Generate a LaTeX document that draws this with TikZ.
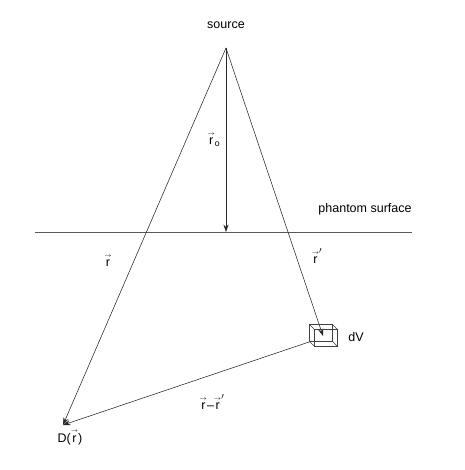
\documentclass[tikz,border=0pt]{standalone}
\usepackage{amsmath}
\usepackage{fontspec}
\setmainfont{Liberation Sans}
\usetikzlibrary{arrows.meta, positioning, calc}
\newcommand{\vr}{\ensuremath{\overset{\scriptscriptstyle\rightarrow}{\text{r}}}}

\begin{document}
\begin{tikzpicture}[x=1pt, y=-1pt,
    lbl/.style={font=\fontsize{12.5}{15}\selectfont, inner sep=1pt},
    ray/.style={line width=0.55pt, draw=black!85},
    arr/.style={ray, -{Stealth[length=2.6mm, width=1.8mm]}},
    cube/.style={line width=0.55pt, draw=black!75}
  ]
    \useasboundingbox (0,0) rectangle (464,470);

    % points
    \coordinate (src) at (226,48);
    \coordinate (foot) at (226,232);
    \coordinate (vox) at (323,336);
    \coordinate (voxout) at (312,341);
    \coordinate (det) at (63,425);
    \coordinate (surfL) at (35,232);
    \coordinate (surfR) at (412,232);

    % phantom surface
    \draw[ray, draw=black!65, line width=0.7pt] (surfL) -- (surfR);

    % rays
    \draw[arr] (src) -- (foot);
    \draw[arr] (src) -- (det);
    \draw[arr] (src) -- (vox);
    \draw[arr] (voxout) -- (det);

    % volume element
    \draw[cube] (309,324) rectangle (332,341);
    \draw[cube] (314,329) rectangle (337,346);
    \draw[cube] (309,324) -- (314,329) (332,324) -- (337,329)
                (309,341) -- (314,346) (332,341) -- (337,346);

    % labels
    \node[lbl] (lsrc) at (226,25) {source};
    \node[lbl] (lsurf) at (365,209) {phantom surface};
    \node[lbl] (lro) at (214,139) {$\vr_{\text{o}}$};
    \node[lbl] (lr) at (108,260) {\vr};
    \node[lbl] (lrp) at (317,256) {$\vr'$};
    \node[lbl] (ldv) at (356,337) {dV};
    \node[lbl] (ldet) at (70,437) {D(\vr)};
    \node[lbl] (ldiff) at (212,402) {$\vr\text{--}\vr'$};
  \end{tikzpicture}
\end{document}
